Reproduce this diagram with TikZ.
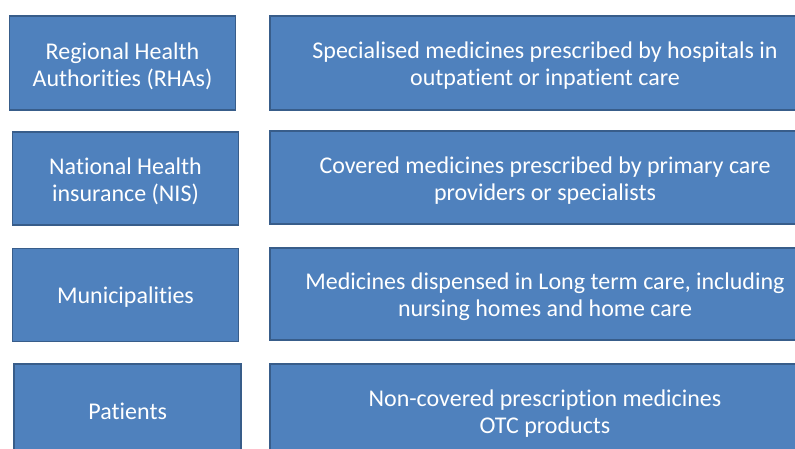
\documentclass[tikz,border=0pt]{standalone}
\usepackage{fontspec}
\setmainfont{Carlito}[Ligatures={NoCommon}]
\definecolor{boxfill}{HTML}{4F81BD}
\definecolor{boxline}{HTML}{385D8A}
\begin{document}
\begin{tikzpicture}[x=1pt,y=-1pt,
  panel/.style={draw=boxline,fill=boxfill,line width=1.8pt,inner sep=0pt},
  caption/.style={text=white,align=center,font=\fontsize{24}{27}\selectfont,inner sep=0pt}]
\useasboundingbox (0,0) rectangle (795,449);
\clip (0,0) rectangle (795,449);
% payer column
\node[panel,minimum width=226pt,minimum height=94pt] (rha) at (122.5,63) {};
\node[panel,minimum width=226pt,minimum height=93pt] (nis) at (125.5,178.3) {};
\node[panel,minimum width=226pt,minimum height=93pt] (mun) at (125.5,295) {};
\node[panel,minimum width=227pt,minimum height=94pt] (pat) at (127.7,411.3) {};
% what each payer covers
\node[panel,minimum width=550pt,minimum height=94pt] (hosp) at (545,63) {};
\node[panel,minimum width=550pt,minimum height=93pt] (prim) at (545,177.5) {};
\node[panel,minimum width=550pt,minimum height=92pt] (ltc) at (545,294.2) {};
\node[panel,minimum width=550pt,minimum height=94pt] (otc) at (545,411.3) {};
% texts
\node[caption] (rhat) at ([yshift=-3pt]rha.center) {Regional Health\\Authorities (RHAs)};
\node[caption] (nist) at ([yshift=-3pt]nis.center) {National Health\\insurance (NIS)};
\node[caption] (munt) at ([yshift=-2pt]mun.center) {Municipalities};
\node[caption] (patt) at ([yshift=-0.5pt]pat.center) {Patients};
\node[caption] (hospt) at ([yshift=-3pt]hosp.center) {Specialised medicines prescribed by hospitals in\\outpatient or inpatient care};
\node[caption] (primt) at ([yshift=-3pt]prim.center) {Covered medicines prescribed by primary care\\providers or specialists};
\node[caption] (ltct) at ([yshift=-3pt]ltc.center) {Medicines dispensed in Long term care, including\\nursing homes and home care};
\node[caption] (otct) at ([yshift=-2pt]otc.center) {Non-covered prescription medicines\\OTC products};
\end{tikzpicture}
\end{document}
